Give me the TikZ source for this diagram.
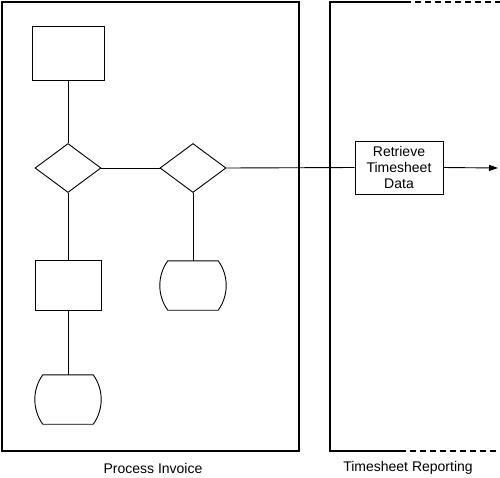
\documentclass[tikz,border=0pt]{standalone}
\usepackage{fontspec}
\setmainfont{Liberation Sans}
\usetikzlibrary{shapes.geometric,arrows.meta}
\newcommand\storeoutline[1]{%
  \draw[thinline] ([xshift=8pt]#1.north west) -- ([xshift=-8pt]#1.north east)
  .. controls ([xshift=-2.8pt,yshift=-7.1pt]#1.north east) and ([yshift=8.8pt]#1.east) .. (#1.east)
  .. controls ([yshift=-8.8pt]#1.east) and ([xshift=-2.8pt,yshift=7.1pt]#1.south east) .. ([xshift=-8pt]#1.south east)
  -- ([xshift=8pt]#1.south west)
  .. controls ([xshift=2.8pt,yshift=7.1pt]#1.south west) and ([yshift=-8.8pt]#1.west) .. (#1.west)
  .. controls ([yshift=8.8pt]#1.west) and ([xshift=2.8pt,yshift=-7.1pt]#1.north west) .. cycle;}
\begin{document}
\begin{tikzpicture}[x=1pt,y=-1pt,
  lane/.style={line width=2pt},
  thinline/.style={line width=0.9pt},
  box/.style={draw,thinline,minimum width=66pt,minimum height=50pt,inner sep=0pt},
  dec/.style={draw,thinline,diamond,minimum width=66pt,minimum height=49pt,inner sep=0pt},
  store/.style={minimum width=66pt,minimum height=49pt,inner sep=0pt},
  lbl/.style={font=\fontsize{14}{16}\selectfont,inner sep=0pt},
  every node/.style={font=\fontsize{14}{16}\selectfont}]
\useasboundingbox (0,0) rectangle (500,477);
% lanes
\draw[lane] (2,2) rectangle (299,451);
\draw[lane] (405,2) -- (330,2) -- (330,451) -- (400,451);
\draw[lane,dash pattern=on 6pt off 4pt] (405,2) -- (500,2);
\draw[lane,dash pattern=on 6pt off 4pt] (400,451) -- (500,451);
% nodes
\node[box,minimum width=72pt,minimum height=54pt] (r1) at (68,53) {};
\node[dec] (d1) at (68,168) {};
\node[dec] (d2) at (193,168) {};
\node[box] (r2) at (68,285) {};
\node[store] (s1) at (68,399.5) {};
\node[store] (s2) at (193,285.5) {};
\storeoutline{s1}
\storeoutline{s2}
\node[box,minimum width=88pt,minimum height=53pt,align=center,inner sep=2pt] (rt) at (399,167.5) {Retrieve\\Timesheet\\Data};
\coordinate (out) at (498,168);
% connectors
\draw[thinline] (r1.south) -- (d1.north);
\draw[thinline] (d1.east) -- (d2.west);
\draw[thinline] (d1.south) -- (r2.north);
\draw[thinline] (r2.south) -- (s1.north);
\draw[thinline] (d2.south) -- (s2.north);
\draw[thinline] (d2.east) -- (rt.west);
\draw[thinline,-{Triangle[length=9pt,width=6pt]}] (rt.east) -- (out);
% labels
\node[lbl] (l1) at (153,468) {Process Invoice};
\node[lbl] (l2) at (408,468) {Timesheet Reporting};
\end{tikzpicture}
\end{document}
